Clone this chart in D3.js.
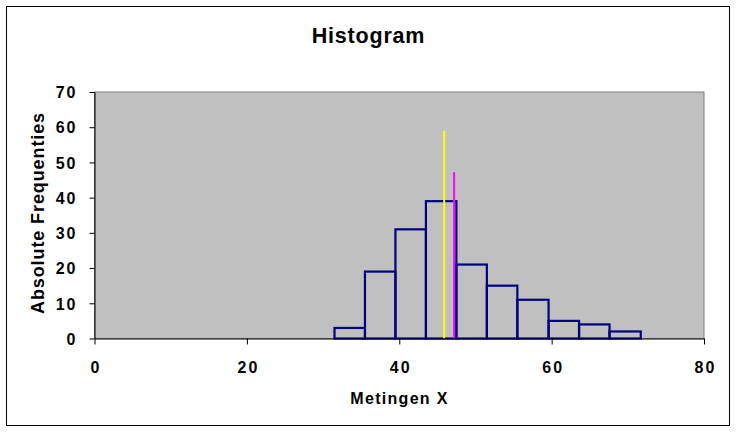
<!DOCTYPE html>
<html>
<head>
<meta charset="utf-8">
<script src="https://cdn.jsdelivr.net/npm/d3@7"></script>
<style>
  html, body { margin: 0; padding: 0; background: #ffffff; }
  svg { display: block; }
  text { font-family: "Liberation Sans", Arial, sans-serif; font-weight: bold; fill: #000; }
</style>
</head>
<body>
<svg id="chart" width="736" height="432"></svg>
<script>
// ---- data ----
const binEdges = [31.5, 35.5, 39.5, 43.5, 47.5, 51.5, 55.5, 59.6, 63.6, 67.6, 71.7];
const counts = [3, 19, 31, 39, 21, 15, 11, 5, 4, 2];
const refLines = [
  { name: "yellow", x: 45.9, h: 59, color: "#FFFF00" },
  { name: "magenta", x: 47.2, h: 47.2, color: "#FF00FF" }
];
const xTicks = [0, 20, 40, 60, 80];
const yTicks = [0, 10, 20, 30, 40, 50, 60, 70];
const titleText = "Histogram";
const xTitle = "Metingen X";
const yTitle = "Absolute Frequenties";

// ---- layout ----
const svg = d3.select("#chart");
const plotL = 94.5, plotR = 704, plotT = 92, plotB = 338.5;

const x = d3.scaleLinear().domain([0, 80]).range([plotL, plotR]);
const y = d3.scaleLinear().domain([0, 70]).range([plotB, plotT]);

// outer border
svg.append("rect")
  .attr("x", 6.5).attr("y", 6.5)
  .attr("width", 729.5 - 6.5).attr("height", 425.5 - 6.5)
  .attr("fill", "#fff").attr("stroke", "#000").attr("stroke-width", 1);

// plot area
svg.append("rect")
  .attr("x", plotL).attr("y", plotT)
  .attr("width", plotR - plotL).attr("height", plotB - plotT)
  .attr("fill", "#C0C0C0").attr("stroke", "#808080").attr("stroke-width", 1);

// bars
const bins = counts.map((c, i) => ({ x0: binEdges[i], x1: binEdges[i + 1], c }));
svg.append("g").selectAll("rect").data(bins).join("rect")
  .attr("x", d => x(d.x0))
  .attr("y", d => y(d.c))
  .attr("width", d => x(d.x1) - x(d.x0))
  .attr("height", d => y(0) - y(d.c))
  .attr("fill", "none")
  .attr("stroke", "#000080")
  .attr("stroke-width", 2.2);

// reference lines
svg.append("g").selectAll("line").data(refLines).join("line")
  .attr("x1", d => x(d.x)).attr("x2", d => x(d.x))
  .attr("y1", y(0)).attr("y2", d => y(d.h))
  .attr("stroke", d => d.color)
  .attr("stroke-width", 2);

// axes
const yAxis = svg.append("g")
  .attr("transform", `translate(${plotL},0)`)
  .call(d3.axisLeft(y).tickValues(yTicks).tickSize(5).tickPadding(14).tickSizeOuter(0));
yAxis.select(".domain").attr("stroke", "#000");
yAxis.selectAll(".tick line").attr("stroke", "#000");
yAxis.selectAll(".tick text")
  .style("font-family", '"Liberation Sans", Arial, sans-serif')
  .style("font-weight", "bold")
  .style("font-size", "16px")
  .style("letter-spacing", "2px")
  .attr("dx", 2)
  .attr("dy", "0.36em");

const xAxis = svg.append("g")
  .attr("transform", `translate(0,${plotB})`)
  .call(d3.axisBottom(x).tickValues(xTicks).tickSize(6).tickSizeOuter(0));
xAxis.select(".domain").attr("stroke", "#000");
xAxis.selectAll(".tick line").attr("stroke", "#000");
xAxis.selectAll(".tick text")
  .style("font-family", '"Liberation Sans", Arial, sans-serif')
  .style("font-weight", "bold")
  .style("font-size", "16px")
  .style("letter-spacing", "2px")
  .attr("dx", 1)
  .attr("y", 34)
  .attr("dy", null);

// titles
svg.append("text")
  .attr("x", 368.5).attr("y", 43)
  .attr("text-anchor", "middle")
  .style("font-size", "21.5px")
  .style("letter-spacing", "0.8px")
  .text(titleText);

svg.append("text")
  .attr("x", 399.5).attr("y", 403.5)
  .attr("text-anchor", "middle")
  .style("font-size", "16px")
  .style("letter-spacing", "1.3px")
  .text(xTitle);

svg.append("text")
  .attr("transform", `translate(43.5,213) rotate(-90)`)
  .attr("text-anchor", "middle")
  .style("font-size", "18px")
  .style("letter-spacing", "0.9px")
  .text(yTitle);
</script>
</body>
</html>
